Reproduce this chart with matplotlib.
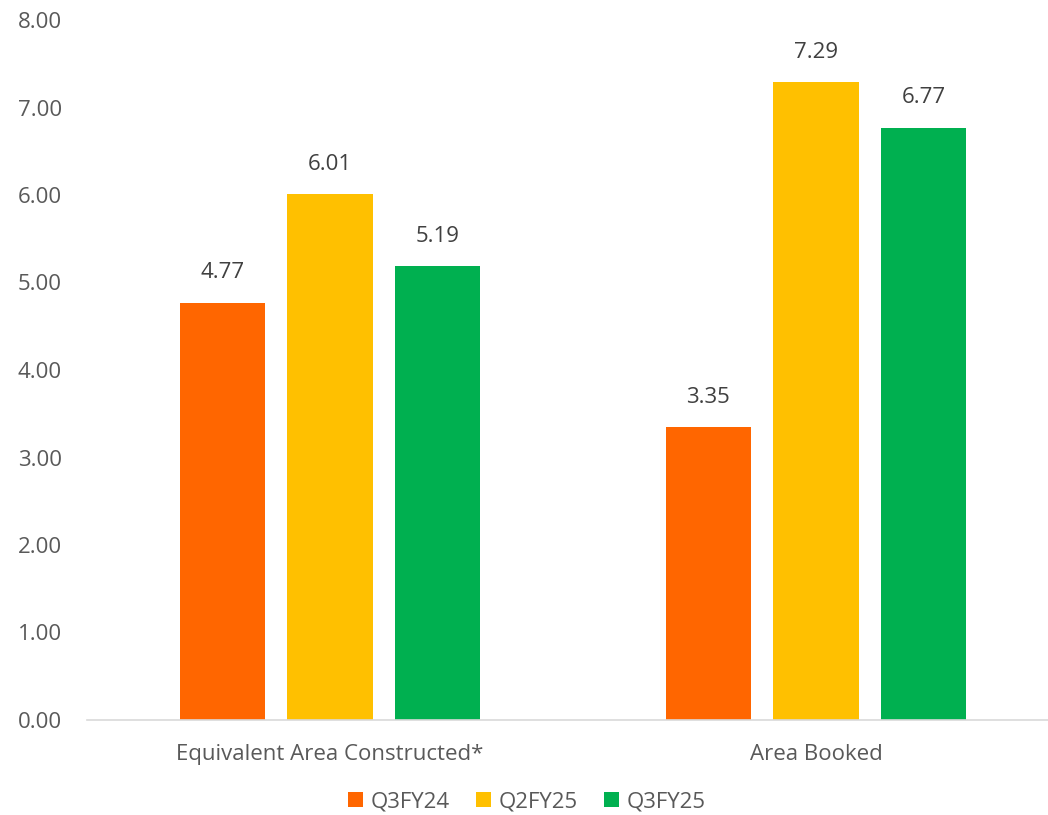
import matplotlib.pyplot as plt
import numpy as np

categories = ['Equivalent Area Constructed*', 'Area Booked']
series = ['Q3FY24', 'Q2FY25', 'Q3FY25']
values = {
    'Q3FY24': [4.77, 3.35],
    'Q2FY25': [6.01, 7.29],
    'Q3FY25': [5.19, 6.77],
}
colors = ['#FF6600', '#FFC000', '#00B050']

plt.rcParams['font.family'] = ['Open Sans', 'DejaVu Sans']
txt = '#595959'
fs = 16

fig = plt.figure(figsize=(10.48, 8.15), dpi=100)
ax = fig.add_axes([87 / 1048, 95 / 815, (1059 - 87) / 1048, 700 / 815])

x = np.arange(len(categories))
width = 0.175
step = 0.222
for i, (name, c) in enumerate(zip(series, colors)):
    pos = x + (i - 1) * step
    bars = ax.bar(pos, values[name], width=width, color=c, label=name, zorder=2)
    for b, v in zip(bars, values[name]):
        ax.text(b.get_x() + b.get_width() / 2, v + 0.22, f'{v:.2f}',
                ha='center', va='bottom', fontsize=fs, color='#404040')

ax.set_xlim(-0.5, 1.5)
ax.set_ylim(0, 8)
ax.set_yticks(np.arange(0, 9, 1))
ax.set_yticklabels([f'{t:.2f}' for t in np.arange(0, 9, 1)])
ax.set_xticks(x)
ax.set_xticklabels(categories)
ax.tick_params(axis='both', length=0, labelsize=fs, labelcolor=txt)
ax.tick_params(axis='y', pad=18)
ax.tick_params(axis='x', pad=17)
for s in ['top', 'right', 'left']:
    ax.spines[s].set_visible(False)
ax.spines['bottom'].set_color('#D9D9D9')
ax.spines['bottom'].set_linewidth(1.2)

ax.legend(loc='center', bbox_to_anchor=(527 / 1048, 13 / 815), bbox_transform=fig.transFigure,
          ncol=3, frameon=False, fontsize=fs, labelcolor=txt,
          handlelength=0.64, handleheight=0.64, handletextpad=0.36, columnspacing=1.2,
          borderaxespad=0, borderpad=0)

fig.savefig('out.png', dpi=100)
